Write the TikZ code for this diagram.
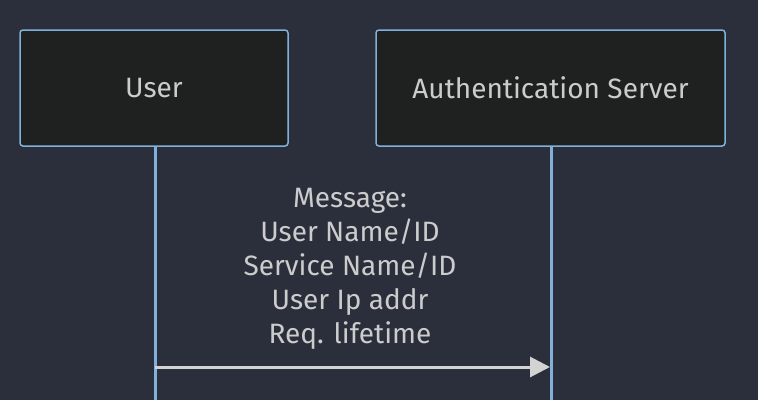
\documentclass[tikz,border=0pt]{standalone}
\usepackage{fontspec}
\setmainfont{Fira Sans}
\usetikzlibrary{arrows.meta}
\definecolor{bg}{HTML}{2A2F3B}
\definecolor{boxfill}{HTML}{1F2020}
\definecolor{boxline}{HTML}{81B1DB}
\definecolor{txt}{HTML}{CCCCCC}
\definecolor{msgline}{HTML}{D3D3D3}
\tikzset{
  actor/.style={draw=boxline, fill=boxfill, line width=1.5pt, rounded corners=3pt, text=txt, font=\fontsize{28}{32}\selectfont, minimum height=116pt, inner sep=0pt},
  lifeline/.style={draw=boxline, line width=3pt},
  msg/.style={draw=msgline, line width=3pt, -{Triangle[length=20pt,width=20pt]}},
  msgtext/.style={text=txt, font=\fontsize{28}{34}\selectfont, align=center, inner sep=0pt}
}
\begin{document}
\begin{tikzpicture}[x=1pt,y=-1pt]
\fill[bg] (0,0) rectangle (758,400);
\useasboundingbox (0,0) rectangle (758,400);
\node[actor, minimum width=268pt] (user) at (154,88) {User};
\node[actor, minimum width=349pt] (auth) at (550.5,88) {Authentication Server};
\coordinate (ubot) at (155,400);
\coordinate (abot) at (551,400);
\draw[lifeline] (user.south -| ubot) -- (ubot);
\draw[lifeline] (auth.south -| abot) -- (abot);
\coordinate (m1) at (155,367);
\coordinate (m2) at (550,367);
\draw[msg] (m1) -- (m2);
\node[msgtext, anchor=north] (label) at (350,188) {Message:\\User Name/ID\\Service Name/ID\\User Ip addr\\Req. lifetime};
\end{tikzpicture}
\end{document}
